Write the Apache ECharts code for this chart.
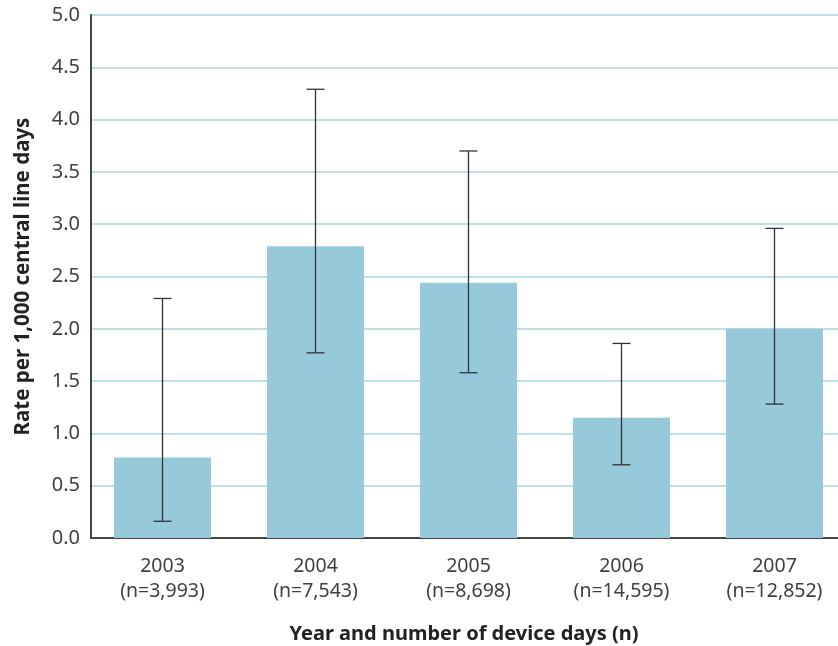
<!DOCTYPE html>
<html>
<head>
<meta charset="utf-8">
<script src="https://cdn.jsdelivr.net/npm/echarts@6/dist/echarts.min.js"></script>
<style>
  html, body { margin: 0; padding: 0; background: #fff; }
  #chart { width: 838px; height: 646px; }
</style>
</head>
<body>
<div id="chart"></div>
<script>
// Central line infection rate per 1,000 central line days, by year
const years = ['2003', '2004', '2005', '2006', '2007'];
const deviceDays = ['3,993', '7,543', '8,698', '14,595', '12,852'];
const rates = [0.77, 2.79, 2.44, 1.15, 2.00];
const ciLow = [0.16, 1.77, 1.58, 0.70, 1.28];
const ciHigh = [2.29, 4.29, 3.70, 1.86, 2.96];
const yTicks = { min: 0, max: 5, interval: 0.5 };

const categoryLabels = years.map((y, i) => y + '\n(n=' + deviceDays[i] + ')');
const FONT = 'Noto Sans';

const chart = echarts.init(document.getElementById('chart'), null, { renderer: 'canvas' });

chart.setOption({
  backgroundColor: '#ffffff',
  animation: false,
  grid: [
    // bars and category labels
    { left: 86, width: 765, top: 15, bottom: 108, outerBoundsMode: 'none', containLabel: false },
    // axis frame and gridlines
    { left: 91, right: 0, top: 15, bottom: 108, outerBoundsMode: 'none', containLabel: false }
  ],
  xAxis: [
    {
      gridIndex: 0,
      type: 'category',
      data: categoryLabels,
      axisLine: { show: false },
      axisTick: { show: false },
      axisLabel: {
        margin: 16,
        color: '#404040',
        fontFamily: FONT,
        fontSize: 19.5,
        lineHeight: 25
      },
      name: 'Year and number of device days (n)',
      nameLocation: 'middle',
      nameGap: 86,
      nameTextStyle: { fontFamily: FONT, fontSize: 20, fontWeight: 'bold', color: '#222', padding: [0, 9, 0, 0] }
    },
    {
      gridIndex: 1,
      type: 'category',
      data: years,
      axisLine: { show: true, lineStyle: { color: '#444', width: 2 } },
      axisTick: { show: false },
      axisLabel: { show: false }
    }
  ],
  yAxis: [
    {
      gridIndex: 0,
      type: 'value',
      min: yTicks.min, max: yTicks.max, interval: yTicks.interval,
      show: false
    },
    {
      gridIndex: 1,
      type: 'value',
      min: yTicks.min, max: yTicks.max, interval: yTicks.interval,
      axisLine: { show: true, lineStyle: { color: '#444', width: 2 } },
      axisTick: { show: false },
      splitLine: { show: true, lineStyle: { color: '#a6d4e2', width: 1.5 } },
      axisLabel: {
        margin: 11,
        color: '#404040',
        fontFamily: FONT,
        fontSize: 20,
        formatter: v => v.toFixed(1)
      },
      name: 'Rate per 1,000 central line days',
      nameLocation: 'middle',
      nameGap: 57,
      nameTextStyle: { fontFamily: FONT, fontSize: 20.5, fontWeight: 'bold', color: '#222' }
    }
  ],
  series: [
    {
      type: 'bar',
      xAxisIndex: 0,
      yAxisIndex: 0,
      data: rates,
      barWidth: 97,
      itemStyle: { color: '#96cadb' },
      z: 3
    },
    {
      type: 'custom',
      xAxisIndex: 0,
      yAxisIndex: 0,
      z: 5,
      data: years.map((_, i) => [i, ciLow[i], ciHigh[i]]),
      renderItem: function (params, api) {
        const lo = api.coord([api.value(0), api.value(1)]);
        const hi = api.coord([api.value(0), api.value(2)]);
        const half = 9;
        const style = { stroke: '#333', lineWidth: 1.3 };
        return {
          type: 'group',
          children: [
            { type: 'line', shape: { x1: hi[0], y1: hi[1], x2: lo[0], y2: lo[1] }, style },
            { type: 'line', shape: { x1: hi[0] - half, y1: hi[1], x2: hi[0] + half, y2: hi[1] }, style },
            { type: 'line', shape: { x1: lo[0] - half, y1: lo[1], x2: lo[0] + half, y2: lo[1] }, style }
          ]
        };
      }
    }
  ]
});
</script>
</body>
</html>
